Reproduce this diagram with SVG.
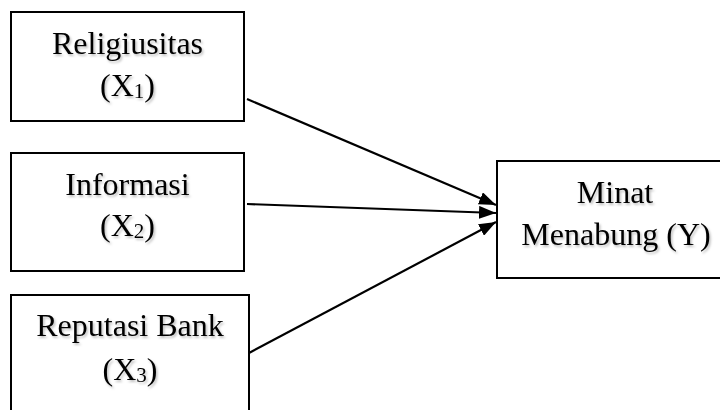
<svg xmlns="http://www.w3.org/2000/svg" width="720" height="410" viewBox="0 0 720 410">
  <defs>
    <style>
      .box { fill: #ffffff; stroke: #000000; stroke-width: 2; }
      .lbl { font-family: "Liberation Serif", "Times New Roman", serif; font-size: 32px; fill: #000000; text-anchor: middle; filter: url(#shadow); }
      .sub { font-size: 21px; }
      .edge { stroke: #000000; stroke-width: 2.2; fill: none; marker-end: url(#arrow); }
    </style>
    <filter id="shadow" x="-10%" y="-20%" width="130%" height="160%">
      <feDropShadow dx="1.5" dy="2" stdDeviation="1" flood-color="#000000" flood-opacity="0.25"/>
    </filter>
    <marker id="arrow" viewBox="0 0 17 13" refX="17" refY="6.5" markerWidth="17" markerHeight="13" markerUnits="userSpaceOnUse" orient="auto">
      <path d="M0,0 L17,6.5 L0,13 Z" fill="#000000"/>
    </marker>
  </defs>
  <rect width="720" height="410" fill="#ffffff"/>

  <g id="connectors">
    <line class="edge" x1="247" y1="99" x2="496" y2="205"/>
    <line class="edge" x1="247" y1="204" x2="496" y2="213"/>
    <line class="edge" x1="249" y1="353" x2="496" y2="222"/>
  </g>

  <g id="node-x1">
    <rect class="box" x="11" y="12" width="233" height="109"/>
    <text class="lbl" x="127.5" y="54">Religiusitas</text>
    <text class="lbl" x="127.5" y="96">(X<tspan class="sub" dy="2">1</tspan><tspan dy="-2">)</tspan></text>
  </g>

  <g id="node-x2">
    <rect class="box" x="11" y="153" width="233" height="118"/>
    <text class="lbl" x="127.5" y="195">Informasi</text>
    <text class="lbl" x="127.5" y="236">(X<tspan class="sub" dy="2">2</tspan><tspan dy="-2">)</tspan></text>
  </g>

  <g id="node-x3">
    <rect class="box" x="11" y="295" width="238" height="130"/>
    <text class="lbl" x="130" y="336">Reputasi Bank</text>
    <text class="lbl" x="130" y="380">(X<tspan class="sub" dy="2">3</tspan><tspan dy="-2">)</tspan></text>
  </g>

  <g id="node-y">
    <rect class="box" x="497" y="161" width="236" height="117"/>
    <text class="lbl" x="615" y="203">Minat</text>
    <text class="lbl" x="616" y="245">Menabung (Y)</text>
  </g>
</svg>
